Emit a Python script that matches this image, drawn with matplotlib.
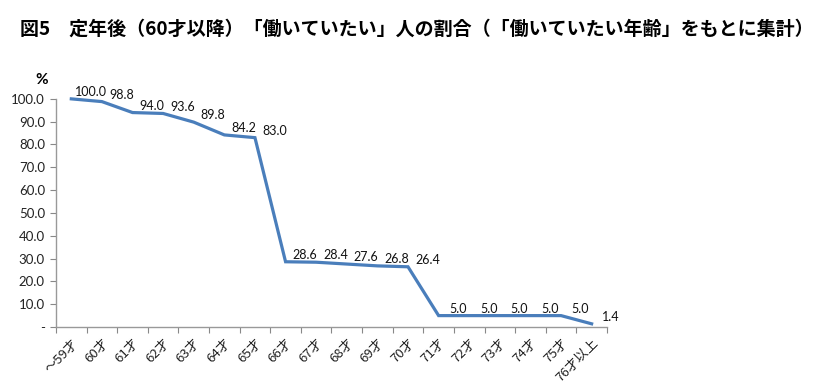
import matplotlib
matplotlib.use("Agg")
import matplotlib.pyplot as plt
from matplotlib.ticker import FixedLocator
import matplotlib.transforms as mtransforms

plt.rcParams['font.family'] = ['Lato', 'Noto Sans CJK JP', 'DejaVu Sans']

title = "図5　定年後（60才以降）「働いていたい」人の割合（「働いていたい年齢」をもとに集計）"
categories = ["～59才", "60才", "61才", "62才", "63才", "64才", "65才", "66才", "67才",
              "68才", "69才", "70才", "71才", "72才", "73才", "74才", "75才", "76才以上"]
values = [100.0, 98.8, 94.0, 93.6, 89.8, 84.2, 83.0, 28.6, 28.4, 27.6, 26.8, 26.4,
          5.0, 5.0, 5.0, 5.0, 5.0, 1.4]
yticks = [0, 10, 20, 30, 40, 50, 60, 70, 80, 90, 100]
ytick_labels = ["-", "10.0", "20.0", "30.0", "40.0", "50.0", "60.0", "70.0", "80.0", "90.0", "100.0"]

fig = plt.figure(figsize=(8.26, 3.90), dpi=100)
ax = fig.add_axes([0.0678, 0.1615, 0.667, 0.585])

x = list(range(len(values)))
ax.plot(x, values, color="#4A7EBB", linewidth=2.3, solid_joinstyle="miter", clip_on=False)

ax.set_xlim(-0.5, len(values) - 0.5)
ax.set_ylim(0, 100)

ax.set_yticks(yticks)
ax.set_yticklabels(ytick_labels, fontsize=9.5, color="#222222")
ax.xaxis.set_major_locator(FixedLocator([i - 0.5 for i in range(len(values) + 1)]))
ax.xaxis.set_minor_locator(FixedLocator(x))
ax.set_xticklabels([])
ax.set_xticklabels(categories, minor=True, rotation=45, ha="right", va="top",
                   rotation_mode="anchor", fontsize=9.5, color="#222222",
                   family=['Noto Sans CJK JP', 'DejaVu Sans'])
ax.tick_params(axis="x", which="minor", length=0, pad=7)
ax.tick_params(axis="x", which="major", length=4, color="#888888", direction="out")
ax.tick_params(axis="y", length=4, color="#888888", direction="out", pad=4)

for s in ["top", "right"]:
    ax.spines[s].set_visible(False)
for s in ["left", "bottom"]:
    ax.spines[s].set_color("#999999")
    ax.spines[s].set_linewidth(1.0)

offset = mtransforms.offset_copy(ax.transData, fig=fig, x=14, y=5, units="points")
for xi, v in zip(x, values):
    ax.text(xi, v, f"{v:.1f}", transform=offset, ha="center", va="center",
            fontsize=9, color="#111111")

fig.text(0.051, 0.795, "%", fontsize=11, fontweight="bold", ha="center", va="center")
fig.text(0.024, 0.925, title, fontsize=13.7, fontweight="bold", ha="left", va="center",
         family=['Noto Sans CJK JP', 'DejaVu Sans'])

fig.savefig("out.png", dpi=100)
